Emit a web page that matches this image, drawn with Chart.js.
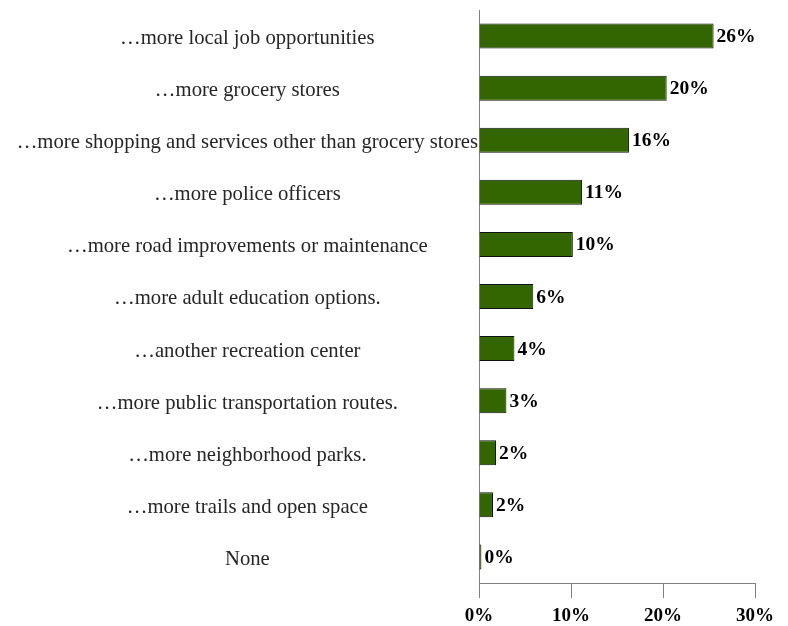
<!DOCTYPE html>
<html>
<head>
<meta charset="utf-8">
<script src="https://cdn.jsdelivr.net/npm/chart.js@4/dist/chart.umd.min.js"></script>
<style>
  html, body { margin: 0; padding: 0; background: #ffffff; }
  #wrap { width: 788px; height: 626px; }
</style>
</head>
<body>
<div id="wrap"><canvas id="c" width="788" height="626"></canvas></div>
<script>
const categories = [
  "\u2026more local job opportunities",
  "\u2026more grocery stores",
  "\u2026more shopping and services other than grocery stores",
  "\u2026more police officers",
  "\u2026more road improvements or maintenance",
  "\u2026more adult education options.",
  "\u2026another recreation center",
  "\u2026more public transportation routes.",
  "\u2026more neighborhood parks.",
  "\u2026more trails and open space",
  "None"
];
const values = [25.5, 20.4, 16.3, 11.2, 10.2, 5.9, 3.85, 2.98, 1.85, 1.52, 0.26];
const valueLabels = ["26%", "20%", "16%", "11%", "10%", "6%", "4%", "3%", "2%", "2%", "0%"];
const xTicks = [0, 10, 20, 30];

const SERIF = "'Liberation Serif', 'Times New Roman', serif";

// Value labels at bar ends
const valueLabelPlugin = {
  id: 'valueLabels',
  afterDatasetsDraw(chart) {
    const ctx = chart.ctx;
    const meta = chart.getDatasetMeta(0);
    ctx.save();
    ctx.font = "bold 19.5px " + SERIF;
    ctx.fillStyle = "#000000";
    ctx.textAlign = "left";
    ctx.textBaseline = "middle";
    meta.data.forEach((bar, i) => {
      ctx.fillText(valueLabels[i], bar.x + 3, bar.y + 1);
    });
    ctx.restore();
  }
};

// Category labels, centred as a block to the left of the axis
const categoryLabelPlugin = {
  id: 'categoryLabels',
  afterDraw(chart) {
    const ctx = chart.ctx;
    const yScale = chart.scales.y;
    const labels = chart.data.labels;
    ctx.save();
    ctx.font = "20.7px " + SERIF;
    ctx.fillStyle = "#262626";
    ctx.textAlign = "center";
    ctx.textBaseline = "middle";
    let widest = 0;
    labels.forEach(l => { widest = Math.max(widest, ctx.measureText(l).width); });
    const cx = yScale.right - 1 - widest / 2;
    labels.forEach((l, i) => {
      ctx.fillText(l, cx, yScale.getPixelForValue(i) + 2.5);
    });
    ctx.restore();
  }
};

new Chart(document.getElementById('c'), {
  type: 'bar',
  data: {
    labels: categories,
    datasets: [{
      data: values,
      backgroundColor: '#336600',
      borderColor: '#111111',
      borderWidth: 1,
      barPercentage: 0.48,
      categoryPercentage: 1.0
    }]
  },
  options: {
    indexAxis: 'y',
    responsive: false,
    animation: false,
    devicePixelRatio: 1,
    layout: { padding: { top: 10, right: 33, bottom: 0, left: 0 } },
    plugins: { legend: { display: false }, tooltip: { enabled: false } },
    scales: {
      y: {
        grid: { display: false },
        border: { display: true, color: '#808080', width: 1 },
        ticks: { display: false },
        afterFit(scale) { scale.width = 479; }
      },
      x: {
        min: 0, max: 30,
        afterBuildTicks(scale) { scale.ticks = xTicks.map(v => ({ value: v })); },
        grid: { drawOnChartArea: false, drawTicks: true, tickLength: 15, color: '#808080' },
        border: { display: true, color: '#808080', width: 1 },
        ticks: {
          padding: 7,
          color: '#000000',
          font: { family: SERIF, size: 19, weight: 'bold' },
          callback: (v) => v + '%'
        },
        afterFit(scale) { scale.height = 43; }
      }
    }
  },
  plugins: [valueLabelPlugin, categoryLabelPlugin]
});
</script>
</body>
</html>
